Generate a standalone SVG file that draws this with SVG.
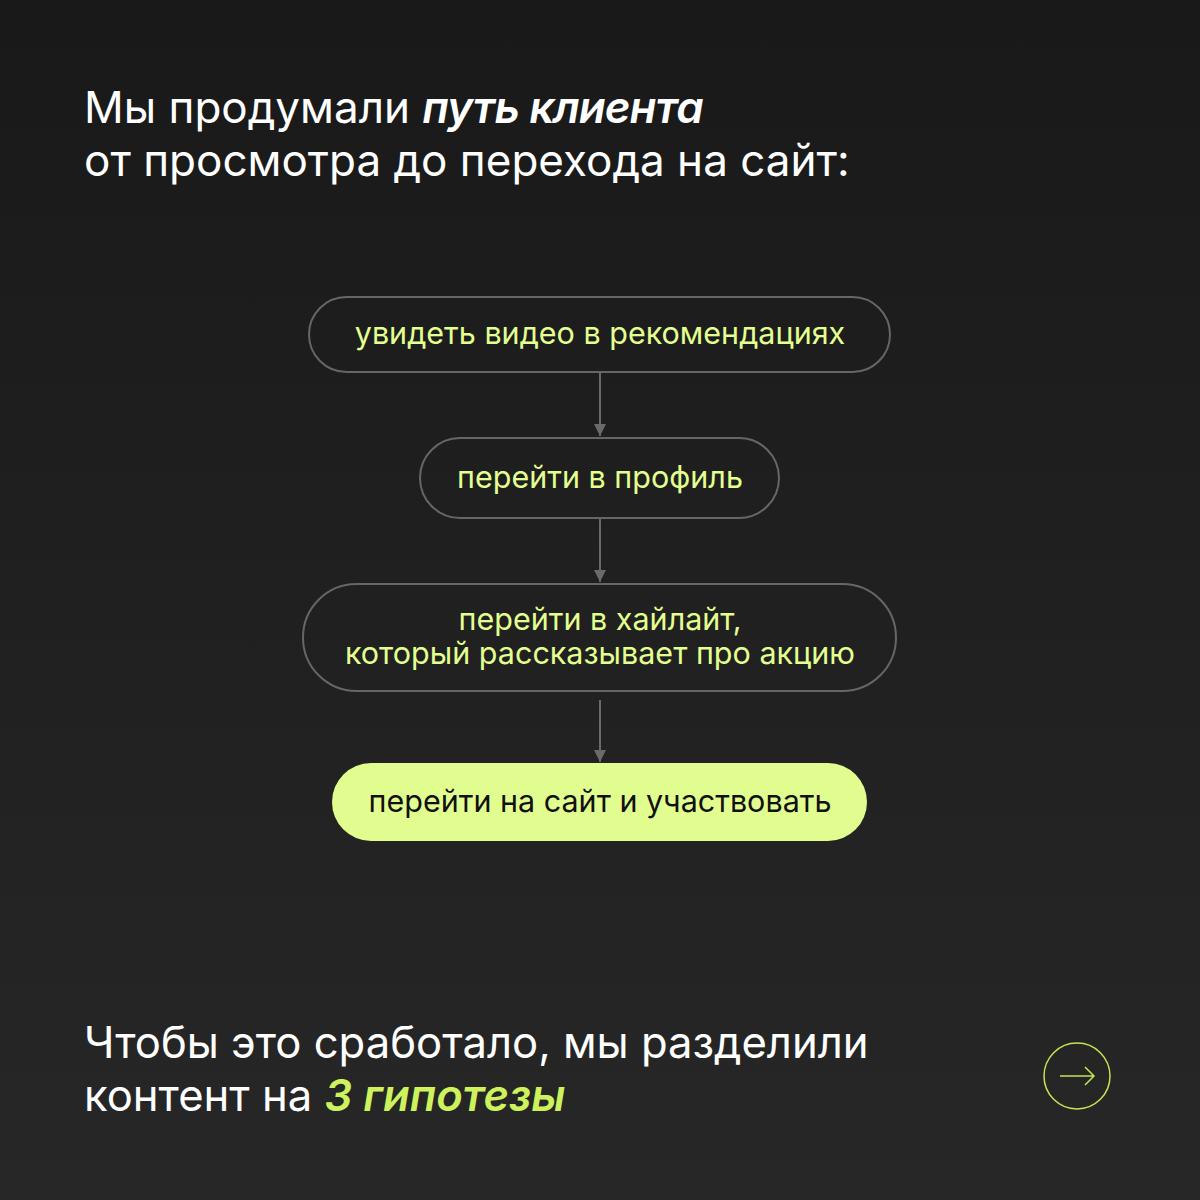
<svg xmlns="http://www.w3.org/2000/svg" width="1200" height="1200" viewBox="0 0 1200 1200">
<defs>
<linearGradient id="bg" x1="0" y1="0" x2="0" y2="1">
<stop offset="0" stop-color="#191919"/>
<stop offset="1" stop-color="#272727"/>
</linearGradient>
<marker id="ah" viewBox="0 0 10 10" refX="10" refY="5" markerWidth="12" markerHeight="12" markerUnits="userSpaceOnUse" orient="auto">
<path d="M0,0 L10,5 L0,10 z" fill="#6a6a6a"/>
</marker>
<style>
.h{font-family:Inter,"Liberation Sans",sans-serif;font-size:44px;fill:#ffffff}
.bi{font-weight:600;font-style:italic}
.n{fill:none;stroke:#666666;stroke-width:2}
.t{font-family:Inter,"Liberation Sans",sans-serif;font-size:30.5px;fill:#e3ff90;text-anchor:middle}
.c{stroke:#6a6a6a;stroke-width:2;fill:none}
</style>
</defs>
<rect width="1200" height="1200" fill="url(#bg)"/>
<g id="title">
<text class="h" x="84" y="123">Мы продумали <tspan class="bi" style="letter-spacing:-0.9px">путь клиента</tspan></text>
<text class="h" x="84" y="176">от просмотра до перехода на сайт:</text>
</g>
<g id="connectors">
<line class="c" x1="600" y1="373" x2="600" y2="436" marker-end="url(#ah)"/>
<line class="c" x1="600" y1="519" x2="600" y2="582" marker-end="url(#ah)"/>
<line class="c" x1="600" y1="700" x2="600" y2="762" marker-end="url(#ah)"/>
</g>
<g id="n1">
<rect class="n" x="309" y="297" width="581" height="75" rx="37.5"/>
<text class="t" x="600" y="344">увидеть видео в рекомендациях</text>
</g>
<g id="n2">
<rect class="n" x="420" y="438" width="359" height="80" rx="40"/>
<text class="t" x="600" y="488">перейти в профиль</text>
</g>
<g id="n3">
<rect class="n" x="303" y="584" width="593" height="107" rx="53.5"/>
<text class="t" x="600" y="630">перейти в хайлайт,</text>
<text class="t" x="600" y="664">который рассказывает про акцию</text>
</g>
<g id="n4">
<rect x="332" y="763" width="535" height="78" rx="39" fill="#e2fd8f"/>
<text class="t" x="600" y="812" style="fill:#111111">перейти на сайт и участвовать</text>
</g>
<g id="footer">
<text class="h" x="84" y="1058" style="font-size:43.6px">Чтобы это сработало, мы разделили</text>
<text class="h" x="84" y="1111" style="font-size:43.6px">контент на <tspan class="bi" fill="#cdf25e">3 гипотезы</tspan></text>
</g>
<g id="next">
<circle cx="1077" cy="1076" r="33" fill="none" stroke="#c2e552" stroke-width="1.5"/>
<path d="M1060,1076 H1094 M1085,1067 L1094,1076 L1085,1085" fill="none" stroke="#c2e552" stroke-width="1.5"/>
</g>
</svg>
